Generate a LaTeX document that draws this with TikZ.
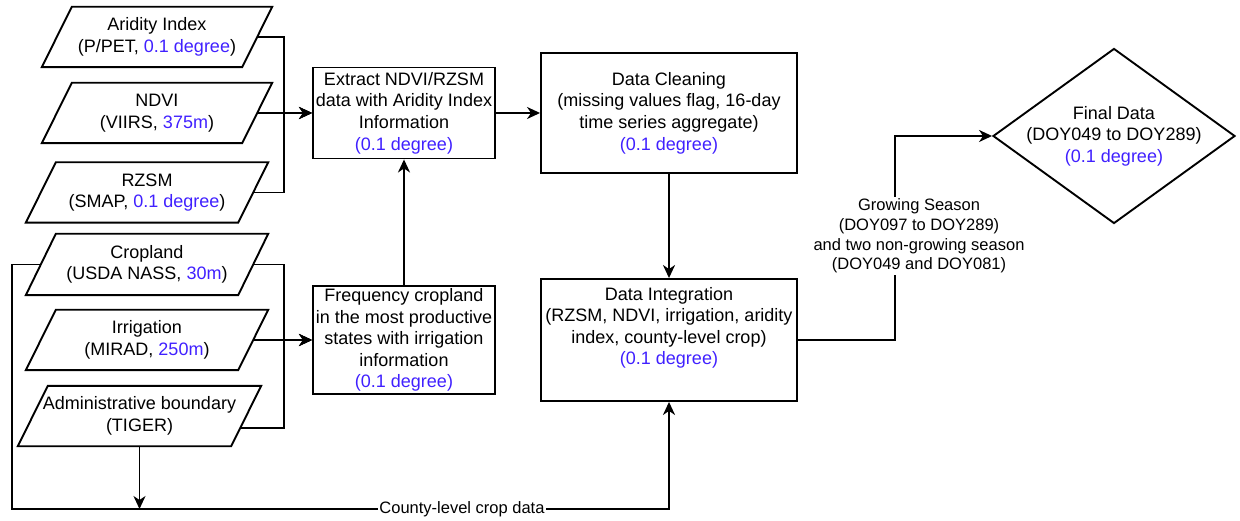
\documentclass[tikz,border=0pt]{standalone}
\usepackage{fontspec}
\setmainfont{Liberation Sans}
\usetikzlibrary{arrows.meta,shapes.geometric}
\definecolor{deg}{HTML}{4020FF}
\newcommand{\dg}[1]{\textcolor{deg}{#1}}
\begin{document}
\begin{tikzpicture}[x=1pt,y=-1pt,
  every node/.style={font=\fontsize{18}{21.6}\selectfont, align=center, inner sep=0pt},
  ln/.style={line width=1.9pt},
  arr/.style={ln, -{Stealth[length=13pt,width=12pt,inset=4pt]}},
  para/.style={minimum height=60},
  boxn/.style={draw, line width=1.9pt},
  elab/.style={font=\fontsize{16.5}{19.8}\selectfont, fill=white, inner sep=1.5pt}]
\useasboundingbox (0,0) rectangle (1240,521);

% input parallelograms
\node[para, minimum width=200] (ari) at (157,37) {Aridity Index\\(P/PET, \dg{0.1 degree})};
\node[para, minimum width=200] (ndvi) at (157,113) {NDVI\\(VIIRS, \dg{375m})};
\node[para, minimum width=212] (rzsm) at (147,192.5) {RZSM\\(SMAP, \dg{0.1 degree})};
\node[para, minimum width=212, minimum height=61] (crop) at (147,264.5) {Cropland\\(USDA NASS, \dg{30m})};
\node[para, minimum width=212] (irr) at (147,340) {Irrigation\\(MIRAD, \dg{250m})};
\node[para, minimum width=213] (adm) at (139.5,416) {Administrative boundary\\(TIGER)};
\foreach \n in {ari,ndvi,rzsm,crop,irr,adm}
  \draw[ln] ([xshift=-15pt]\n.south west) -- ([xshift=-15pt]\n.south east)
     -- ([xshift=15pt]\n.north east) -- ([xshift=15pt]\n.north west) -- cycle;

% process boxes
\node[boxn, minimum width=182, minimum height=91] (ext) at (404,113)
  {Extract NDVI/RZSM\\data with Aridity Index\\Information\\\dg{(0.1 degree)}};
\node[boxn, minimum width=182, minimum height=108] (freq) at (404,340)
  {Frequency cropland\\in the most productive\\states with irrigation\\information\\\dg{(0.1 degree)}};
\node[boxn, minimum width=256, minimum height=120] (cln) at (669,113)
  {Data Cleaning\\(missing values flag, 16-day\\time series aggregate)\\\dg{(0.1 degree)}};
\node[boxn, minimum width=256, minimum height=122] (int) at (669,340)
  {Data Integration\\(RZSM, NDVI, irrigation, aridity\\index, county-level crop)\\\dg{(0.1 degree)}\\\strut};
\node[diamond, draw, line width=1.9pt, minimum width=242, minimum height=175] (fin) at (1114,136) {};
\node (fintxt) at (fin.center) {Final Data\\(DOY049 to DOY289)\\\dg{(0.1 degree)}};

% connectors
\coordinate (j1) at (284,113);
\draw[arr] (ari.east) -| (j1) -- (ext.west);
\draw[arr] (rzsm.east) -| (j1) -- (ext.west);
\draw[arr] (ndvi.east) -- (ext.west);

\coordinate (j2) at (284,340);
\draw[arr] (crop.east) -| (j2) -- (freq.west);
\draw[arr] ([shift={(-6pt,-12pt)}]adm.east) -| (j2) -- (freq.west);
\draw[arr] (irr.east) -- (freq.west);

\draw[arr] (freq.north) -- (ext.south);
\draw[arr] (ext.east) -- (cln.west);
\draw[arr] (cln.south) -- (int.north);

\coordinate (cl) at (12,509);
\coordinate (cr) at (669,509);
\draw[arr] (crop.west) -| (cl) -- (cr) -- (int.south);
\draw[arr] (adm.south) -- (adm.south |- cl);
\node[elab] (clab) at (462,509) {County-level crop data};

\coordinate (g1) at (895,340);
\draw[arr] (int.east) -- (g1) |- (fin.west);
\node[elab] (glab) at (919,236) {Growing Season\\(DOY097 to DOY289)\\and two non-growing season\\(DOY049 and DOY081)};
\end{tikzpicture}
\end{document}
